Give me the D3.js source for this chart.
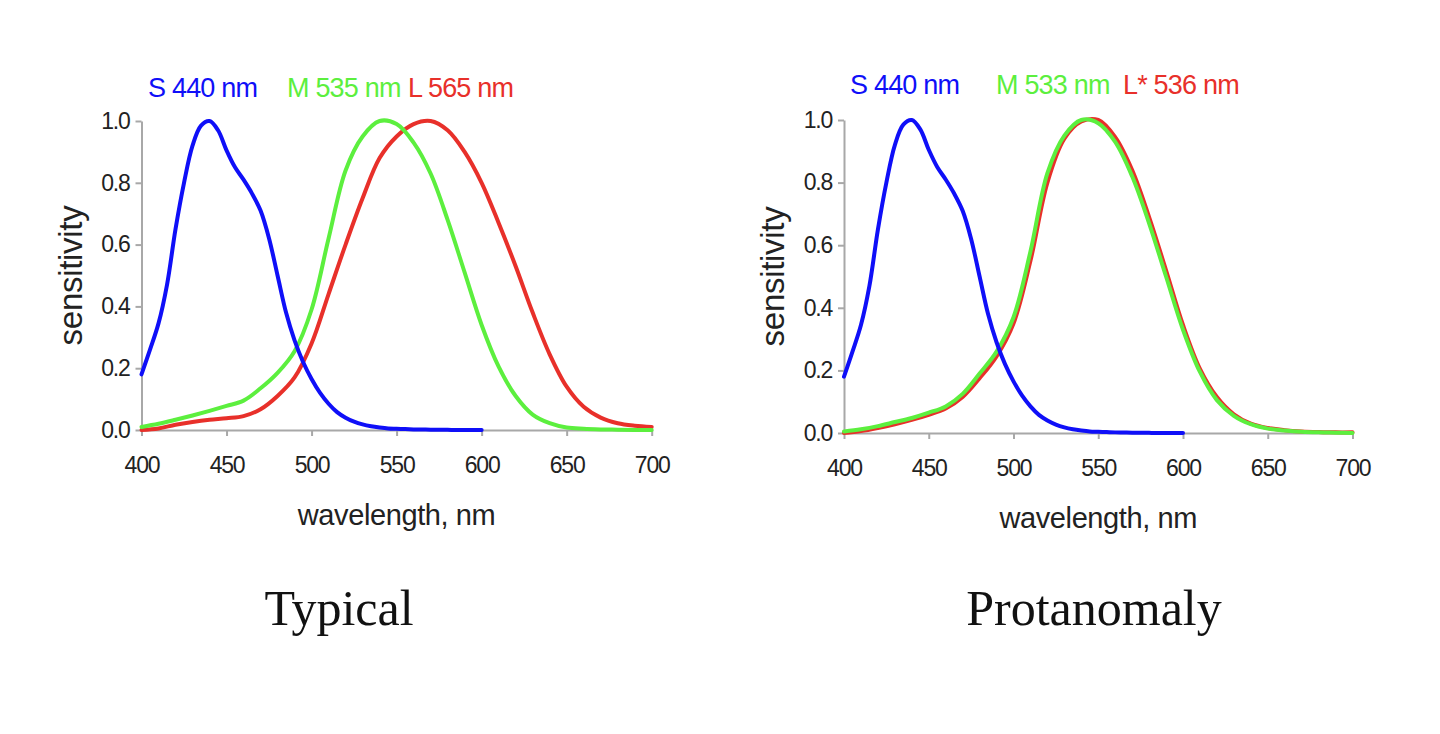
<!DOCTYPE html>
<html>
<head>
<meta charset="utf-8">
<script src="https://cdn.jsdelivr.net/npm/d3@7"></script>
<style>
  body { margin: 0; background: #fff; }
  .axis path, .axis line { stroke: #a8a8a8; stroke-width: 2; }
  .axis text { font-family: "Liberation Sans", Arial, sans-serif; font-size: 23px; fill: #222; letter-spacing: -1.2px; }
  .title { font-family: "Liberation Sans", Arial, sans-serif; fill: #222; }
  .caption { font-family: "Liberation Serif", "Times New Roman", serif; font-size: 50px; fill: #111; }
  .curve { fill: none; stroke-width: 4; stroke-linejoin: round; stroke-linecap: round; }
</style>
</head>
<body>
<svg id="chart" width="1440" height="734"></svg>
<script>
// cone sensitivity curves

var xTicks = [400, 450, 500, 550, 600, 650, 700];
var yTicks = [0, 0.2, 0.4, 0.6, 0.8, 1.0];

// S cone, 5 nm steps 400..600 (same in both panels)
var sWavelengths = d3.range(400, 601, 5);
var sValues = [0.18, 0.26, 0.345, 0.47, 0.65, 0.80, 0.92, 0.985, 1.00, 0.97,
  0.905, 0.85, 0.81, 0.765, 0.71, 0.62, 0.50, 0.38, 0.29, 0.22,
  0.165, 0.12, 0.085, 0.058, 0.04, 0.027, 0.018, 0.012, 0.008, 0.005,
  0.004, 0.003, 0.002, 0.0015, 0.001, 0.001, 0.0005, 0, 0, 0, 0];

// M and L cones, 10 nm steps 400..700
var mlWavelengths = d3.range(400, 701, 10);
var mTypical = [0.01, 0.02, 0.033, 0.047, 0.062, 0.078, 0.095, 0.135, 0.185, 0.255,
  0.39, 0.62, 0.84, 0.95, 1.0, 0.99, 0.93, 0.83, 0.68, 0.51,
  0.34, 0.205, 0.11, 0.05, 0.022, 0.008, 0.004, 0.002, 0.001, 0, 0];
var lTypical = [0, 0.005, 0.017, 0.026, 0.033, 0.038, 0.045, 0.067, 0.11, 0.17,
  0.28, 0.44, 0.60, 0.75, 0.88, 0.95, 0.99, 1.0, 0.97, 0.90,
  0.80, 0.67, 0.53, 0.38, 0.245, 0.14, 0.075, 0.04, 0.022, 0.014, 0.01];
var mProtan = [0.005, 0.012, 0.022, 0.035, 0.048, 0.065, 0.085, 0.125, 0.19, 0.26,
  0.37, 0.58, 0.83, 0.95, 1.0, 0.99, 0.93, 0.82, 0.67, 0.50,
  0.33, 0.195, 0.105, 0.055, 0.028, 0.014, 0.008, 0.004, 0.002, 0.001, 0];
var lProtan = [0, 0.006, 0.016, 0.028, 0.042, 0.058, 0.078, 0.115, 0.175, 0.245,
  0.35, 0.55, 0.80, 0.94, 0.995, 1.0, 0.945, 0.84, 0.69, 0.52,
  0.345, 0.205, 0.115, 0.06, 0.03, 0.016, 0.009, 0.005, 0.003, 0.002, 0.002];

var typicalLabels = ['S 440 nm', 'M 535 nm', 'L 565 nm'];
var protanLabels = ['S 440 nm', 'M 533 nm', 'L* 536 nm'];

var colors = { S: '#0f0ff8', M: '#5cef3e', L: '#e8302a' };

var svg = d3.select('#chart');

var panels = [
  {
    caption: 'Typical', labels: typicalLabels, m: mTypical, l: lTypical,
    x0: 141.5, x1: 651.7, yTop: 121, yBottom: 430,
    labelX: [148, 287, 408], labelY: 97, captionX: 339
  },
  {
    caption: 'Protanomaly', labels: protanLabels, m: mProtan, l: lProtan,
    x0: 844, x1: 1352.5, yTop: 120, yBottom: 433,
    labelX: [850, 996, 1123], labelY: 94, captionX: 1094
  }
];

panels.forEach(drawPanel);

function drawPanel(p) {
  var x = d3.scaleLinear().domain([400, 700]).range([p.x0, p.x1]);
  var y = d3.scaleLinear().domain([0, 1]).range([p.yBottom, p.yTop]);
  var g = svg.append('g');

  g.append('g')
    .attr('class', 'axis')
    .attr('transform', 'translate(0,' + p.yBottom + ')')
    .call(d3.axisBottom(x).tickValues(xTicks).tickSize(6).tickSizeOuter(0).tickPadding(21).tickFormat(d3.format('d')));

  g.append('g')
    .attr('class', 'axis')
    .attr('transform', 'translate(' + p.x0 + ',0)')
    .call(d3.axisLeft(y).tickValues(yTicks).tickSize(6).tickSizeOuter(0).tickPadding(6).tickFormat(d3.format('.1f')));

  g.selectAll('.domain').attr('stroke', '#a8a8a8');

  var line = d3.line()
    .x(function(d) { return x(d[0]); })
    .y(function(d) { return y(Math.max(0, d[1])); })
    .curve(d3.curveCatmullRom.alpha(0.5));

  var series = [
    { key: 'L', w: mlWavelengths, v: p.l },
    { key: 'M', w: mlWavelengths, v: p.m },
    { key: 'S', w: sWavelengths, v: sValues }
  ];

  g.selectAll('path.curve')
    .data(series)
    .enter()
    .append('path')
    .attr('class', 'curve')
    .attr('stroke', function(d) { return colors[d.key]; })
    .attr('d', function(d) { return line(d.w.map(function(w, i) { return [w, d.v[i]]; })); });

  // cone labels over the plot
  var keys = ['S', 'M', 'L'];
  g.selectAll('text.cone')
    .data(p.labels)
    .enter()
    .append('text')
    .attr('class', 'title cone')
    .attr('x', function(d, i) { return p.labelX[i]; })
    .attr('y', p.labelY)
    .style('font-size', '27px')
    .style('letter-spacing', '-0.8px')
    .style('fill', function(d, i) { return colors[keys[i]]; })
    .text(function(d) { return d; });

  g.append('text')
    .attr('class', 'title')
    .attr('x', (p.x0 + p.x1) / 2)
    .attr('y', p.yBottom + 95)
    .attr('text-anchor', 'middle')
    .style('font-size', '29px')
    .style('letter-spacing', '-0.4px')
    .text('wavelength, nm');

  g.append('text')
    .attr('class', 'title')
    .attr('transform', 'translate(' + (p.x0 - 60) + ',' + ((p.yTop + p.yBottom) / 2) + ') rotate(-90)')
    .attr('text-anchor', 'middle')
    .style('font-size', '33px')
    .style('letter-spacing', '-0.3px')
    .text('sensitivity');

  g.append('text')
    .attr('class', 'caption')
    .attr('x', p.captionX)
    .attr('y', 625)
    .attr('text-anchor', 'middle')
    .text(p.caption);
}
</script>
</body>
</html>
